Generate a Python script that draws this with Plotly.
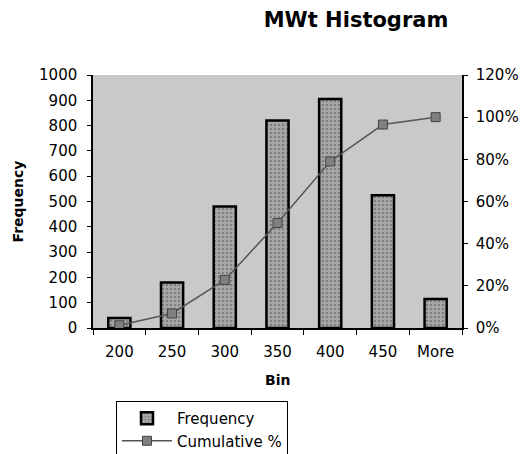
import plotly.graph_objects as go

bins = ["200", "250", "300", "350", "400", "450", "More"]
frequency = [40, 180, 480, 820, 905, 525, 115]
cumulative_pct = [1.3, 6.9, 22.8, 49.8, 79.0, 96.5, 100.0]

FONT = "DejaVu Sans"
W, H = 522, 454
L, R, T, B = 93, 60, 75, 126
pw, ph = W - L - R, H - T - B

fig = go.Figure()
fig.add_trace(go.Bar(
    x=bins, y=frequency, name="Frequency", width=0.42,
    marker=dict(color="#9a9a9a", line=dict(color="black", width=2.5),
                pattern=dict(shape=".", fgcolor="#555555", bgcolor="#a8a8a8", size=4, solidity=0.3)),
    yaxis="y",
))
fig.add_trace(go.Scatter(
    x=bins, y=cumulative_pct, name="Cumulative %", mode="lines+markers",
    line=dict(color="#555555", width=1.5),
    marker=dict(symbol="square", size=9, color="#808080", line=dict(color="#444444", width=1)),
    yaxis="y2",
))

fig.update_layout(
    width=W, height=H,
    margin=dict(l=L, r=R, t=T, b=B, autoexpand=False),
    paper_bgcolor="white", plot_bgcolor="#c9c9c9",
    font=dict(family=FONT, size=15, color="black"),
    title=dict(text="<b>MWt Histogram</b>", font=dict(family=FONT, size=21, color="black"),
               x=(356 - L) / pw, xanchor="center", xref="paper",
               y=1 - 20 / H, yanchor="middle"),
    xaxis=dict(type="category", showgrid=False, showline=True, linecolor="black", linewidth=1.5,
               ticks="outside", ticklen=5, tickcolor="black", tickson="boundaries",
               tickfont=dict(size=15), mirror=False, zeroline=False,
               ticklabelstandoff=9),
    yaxis=dict(range=[0, 1000], dtick=100, showgrid=False, showline=True, linecolor="black",
               linewidth=1.5, ticks="outside", ticklen=4, tickcolor="black",
               tickfont=dict(size=15), zeroline=False, ticklabelstandoff=7),
    yaxis2=dict(range=[0, 120], dtick=20, ticksuffix="%", overlaying="y", side="right",
                showgrid=False, showline=True, linecolor="black", linewidth=1.5,
                ticks="outside", ticklen=4, tickcolor="black", tickfont=dict(size=15),
                zeroline=False, ticklabelstandoff=5),
    showlegend=True,
    legend=dict(x=(116 - L) / pw, y=(328 - 401) / ph, xanchor="left", yanchor="top",
                bgcolor="white", bordercolor="black", borderwidth=1,
                font=dict(family=FONT, size=15), tracegroupgap=0,
                itemwidth=50),
    bargap=0.5,
)

fig.add_annotation(text="<b>Frequency</b>", xref="paper", yref="paper",
                   x=(17 - L) / pw, y=0.5, textangle=-90, showarrow=False,
                   font=dict(family=FONT, size=14), xanchor="center", yanchor="middle")
fig.add_annotation(text="<b>Bin</b>", xref="paper", yref="paper",
                   x=0.5, y=(328 - 380) / ph, showarrow=False,
                   font=dict(family=FONT, size=14), xanchor="center", yanchor="middle")

fig.write_html("out.html")
